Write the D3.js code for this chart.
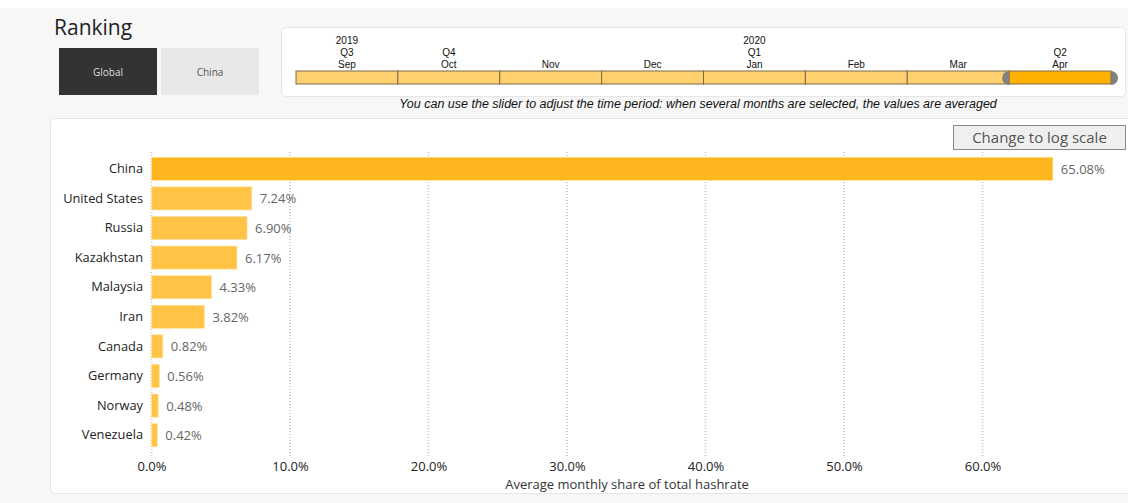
<!DOCTYPE html>
<html>
<head>
<meta charset="utf-8">
<script src="https://cdn.jsdelivr.net/npm/d3@7"></script>
<style>
  html, body { margin: 0; padding: 0; background: #fff; }
  svg { display: block; }
</style>
</head>
<body>
<svg id="chart" width="1128" height="503"></svg>
<script>
var countries = ["China", "United States", "Russia", "Kazakhstan", "Malaysia", "Iran", "Canada", "Germany", "Norway", "Venezuela"];
var shares = [65.08, 7.24, 6.90, 6.17, 4.33, 3.82, 0.82, 0.56, 0.48, 0.42];
var tickValues = [0, 10, 20, 30, 40, 50, 60];
var months = ["Sep", "Oct", "Nov", "Dec", "Jan", "Feb", "Mar", "Apr"];
var quarters = ["Q3", "Q4", "", "", "Q1", "", "", "Q2"];
var years = ["2019", "", "", "", "2020", "", "", ""];
var selectedMonths = ["Apr"];

var svg = d3.select("#chart");
var sans = "'Open Sans', 'Noto Sans', sans-serif";
var arial = "Arial, 'Liberation Sans', sans-serif";

// page background
svg.append("rect").attr("x", 0).attr("y", 8).attr("width", 1128).attr("height", 495).attr("fill", "#f7f7f7");

// title + toggle buttons
svg.append("text").attr("x", 54).attr("y", 35).attr("font-family", sans).attr("font-size", 21)
  .attr("fill", "#222").text("Ranking");

var buttons = [{label: "Global", x: 59, on: true}, {label: "China", x: 161, on: false}];
var btn = svg.selectAll("g.btn").data(buttons).enter().append("g").attr("class", "btn");
btn.append("rect").attr("x", d => d.x).attr("y", 48).attr("width", 98).attr("height", 47)
  .attr("fill", d => d.on ? "#333333" : "#e8e8e8");
btn.append("text").attr("x", d => d.x + 49).attr("y", 76).attr("text-anchor", "middle")
  .attr("font-family", sans).attr("font-size", 10).attr("fill", d => d.on ? "#ddd" : "#555")
  .text(d => d.label);

// slider panel
svg.append("rect").attr("x", 281.5).attr("y", 27.5).attr("width", 844).attr("height", 69).attr("rx", 4)
  .attr("fill", "#fff").attr("stroke", "#e6e6e6");

var sx = d3.scaleBand().domain(months).range([296, 1111]);
var cell = svg.append("g").selectAll("g").data(months).enter().append("g");
cell.append("rect").attr("x", d => sx(d)).attr("y", 71).attr("width", sx.bandwidth()).attr("height", 13)
  .attr("fill", d => selectedMonths.includes(d) ? "#ffb000" : "#ffd06e")
  .attr("stroke", "#7a6a4a").attr("stroke-width", 1);
cell.append("text").attr("x", d => sx(d) + sx.bandwidth() / 2).attr("y", 68).attr("text-anchor", "middle")
  .attr("font-family", arial).attr("font-size", 10).attr("fill", "#111").text(d => d);
cell.append("text").attr("x", d => sx(d) + sx.bandwidth() / 2).attr("y", 56).attr("text-anchor", "middle")
  .attr("font-family", arial).attr("font-size", 10).attr("fill", "#111")
  .text((d, i) => quarters[i]);
cell.append("text").attr("x", d => sx(d) + sx.bandwidth() / 2).attr("y", 44).attr("text-anchor", "middle")
  .attr("font-family", arial).attr("font-size", 10).attr("fill", "#111")
  .text((d, i) => years[i]);

// slider handles
var hx0 = sx(selectedMonths[0]), hx1 = sx(selectedMonths[selectedMonths.length - 1]) + sx.bandwidth();
svg.append("path").attr("d", "M" + hx0 + ",71 A7,7 0 0 0 " + hx0 + ",85 Z").attr("fill", "#808080");
svg.append("path").attr("d", "M" + hx1 + ",71 A7,7 0 0 1 " + hx1 + ",85 Z").attr("fill", "#808080");

svg.append("text").attr("x", 698).attr("y", 108).attr("text-anchor", "middle")
  .attr("font-family", arial).attr("font-size", 12.5).attr("font-style", "italic")
  .attr("fill", "#111")
  .text("You can use the slider to adjust the time period: when several months are selected, the values are averaged");

// chart panel
svg.append("rect").attr("x", 50.5).attr("y", 118.5).attr("width", 1080).attr("height", 375).attr("rx", 4)
  .attr("fill", "#fff").attr("stroke", "#e6e6e6");

var x = d3.scaleLinear().domain([0, 70]).range([151.5, 151.5 + 13.85 * 70]);
var y = d3.scaleBand().domain(countries).range([154, 450]).paddingInner(0.22).paddingOuter(0.11);

// dotted gridlines
svg.append("g").selectAll("line").data(tickValues).enter().append("line")
  .attr("x1", d => x(d)).attr("x2", d => x(d)).attr("y1", 152).attr("y2", 458)
  .attr("stroke", "#cfcfcf").attr("stroke-width", 2).attr("stroke-dasharray", "1,2");

// log scale button
svg.append("rect").attr("x", 953.5).attr("y", 125.5).attr("width", 172).attr("height", 24)
  .attr("fill", "#efefef").attr("stroke", "#8a8a8a");
svg.append("text").attr("x", 1039.5).attr("y", 143).attr("text-anchor", "middle")
  .attr("font-family", sans).attr("font-size", 15).attr("fill", "#555").text("Change to log scale");

// bars
var colors = d3.scaleOrdinal().domain(countries).range(["#fdb620"].concat(d3.range(9).map(() => "#ffc445")));
svg.append("g").selectAll("rect").data(countries).enter().append("rect")
  .attr("x", x(0)).attr("y", d => y(d)).attr("height", y.bandwidth())
  .attr("width", (d, i) => x(shares[i]) - x(0))
  .attr("fill", d => colors(d)).attr("stroke", "#ffe3a0").attr("stroke-width", 0.6);

// value labels
svg.append("g").selectAll("text").data(countries).enter().append("text")
  .attr("x", (d, i) => x(shares[i]) + 8).attr("y", d => y(d) + y.bandwidth() / 2 + 5)
  .attr("font-family", sans).attr("font-size", 13).attr("fill", "#666")
  .text((d, i) => shares[i].toFixed(2) + "%");

// category axis
var yAxis = svg.append("g").attr("transform", "translate(143,0)")
  .call(d3.axisLeft(y).tickSize(0).tickPadding(0));
yAxis.select(".domain").remove();
yAxis.selectAll("text").attr("font-family", sans).attr("font-size", 12.8).attr("fill", "#222");

// value axis
var xAxis = svg.append("g").attr("transform", "translate(0,458)")
  .call(d3.axisBottom(x).tickValues(tickValues).tickSize(0).tickPadding(4).tickFormat(d => d.toFixed(1) + "%"));
xAxis.select(".domain").remove();
xAxis.selectAll("text").attr("font-family", sans).attr("font-size", 13).attr("fill", "#222");

svg.append("text").attr("x", 627).attr("y", 489).attr("text-anchor", "middle")
  .attr("font-family", sans).attr("font-size", 13).attr("fill", "#333")
  .text("Average monthly share of total hashrate");
</script>
</body>
</html>
